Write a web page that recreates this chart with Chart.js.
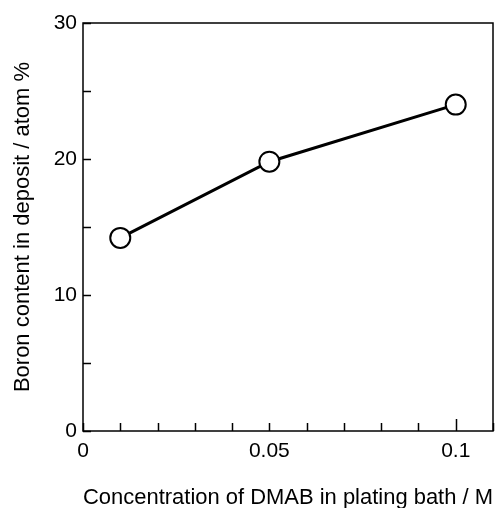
<!DOCTYPE html>
<html>
<head>
<meta charset="utf-8">
<script src="https://cdn.jsdelivr.net/npm/chart.js@4"></script>
<style>
  html, body { margin: 0; padding: 0; background: #fff; }
  #wrap { width: 499px; height: 508px; }
</style>
</head>
<body>
<div id="wrap"><canvas id="boronChart" width="499" height="508"></canvas></div>
<script>
// concentration of DMAB (M) and boron content (atom %)
const dmabConc = [0.01, 0.05, 0.1];
const boronContent = [14.2, 19.8, 24.0];
const xTickLabels = ['0', '0.05', '0.1'];
const yTickLabels = ['0', '10', '20', '30'];

const FONT = "'Liberation Sans', Arial, Helvetica, sans-serif";

// box around plot + inward ticks
const frame = {
    id: 'frame',
    afterDraw(chart) {
        const { ctx, chartArea: a, scales } = chart;
        ctx.save();
        ctx.strokeStyle = '#000';
        ctx.lineWidth = 1.5;
        ctx.strokeRect(a.left, a.top, a.right - a.left, a.bottom - a.top);
        ctx.beginPath();
        scales.x.ticks.forEach(t => {
            const px = Math.round(scales.x.getPixelForValue(t.value)) + 0.5;
            const len = Math.round(t.value * 100) === 10 ? 12 : 8;
            ctx.moveTo(px, a.bottom);
            ctx.lineTo(px, a.bottom - len);
        });
        scales.y.ticks.forEach(t => {
            const py = Math.round(scales.y.getPixelForValue(t.value)) + 0.5;
            ctx.moveTo(a.left, py);
            ctx.lineTo(a.left + 8, py);
        });
        ctx.stroke();
        ctx.restore();
    }
};

const ctx = document.getElementById('boronChart').getContext('2d');
const chart = new Chart(ctx, {
    type: 'scatter',
    data: {
        datasets: [{
            label: 'Boron content',
            data: dmabConc.map((x, i) => ({ x: x, y: boronContent[i] })),
            showLine: true,
            borderColor: '#000',
            borderWidth: 3,
            pointRadius: 10,
            pointBorderWidth: 2,
            pointBackgroundColor: '#fff',
            pointBorderColor: '#000'
        }]
    },
    options: {
        responsive: false,
        animation: false,
        layout: { autoPadding: false, padding: { top: 23, right: 6, left: 0, bottom: 0 } },
        plugins: {
            legend: { display: false },
            tooltip: { enabled: false }
        },
        scales: {
            x: {
                type: 'linear',
                min: 0,
                max: 0.11,
                border: { display: false },
                grid: { display: false, drawTicks: false },
                ticks: {
                    stepSize: 0.01,
                    autoSkip: false,
                    maxRotation: 0,
                    padding: 8,
                    color: '#000',
                    font: { family: FONT, size: 21 },
                    callback: v => {
                        const k = Math.round(v * 100);
                        return k % 5 === 0 && k <= 10 ? xTickLabels[k / 5] : '';
                    }
                },
                title: {
                    display: true,
                    text: 'Concentration of DMAB in plating bath / M',
                    color: '#000',
                    font: { family: FONT, size: 22 },
                    padding: { top: 0, bottom: -3 }
                },
                afterFit: s => { s.height = 77; s.paddingLeft = 0; s.paddingRight = 0; }
            },
            y: {
                min: 0,
                max: 30,
                border: { display: false },
                grid: { display: false, drawTicks: false },
                ticks: {
                    stepSize: 5,
                    autoSkip: false,
                    padding: 6,
                    color: '#000',
                    font: { family: FONT, size: 21 },
                    callback: v => (v % 10 === 0 ? yTickLabels[v / 10] : '')
                },
                title: {
                    display: true,
                    text: 'Boron content in deposit / atom %',
                    color: '#000',
                    font: { family: FONT, size: 22 },
                    padding: { top: 10, bottom: 0 }
                },
                afterFit: s => { s.width = 83; s.paddingTop = 0; s.paddingBottom = 0; }
            }
        }
    },
    plugins: [frame]
});
</script>
</body>
</html>
